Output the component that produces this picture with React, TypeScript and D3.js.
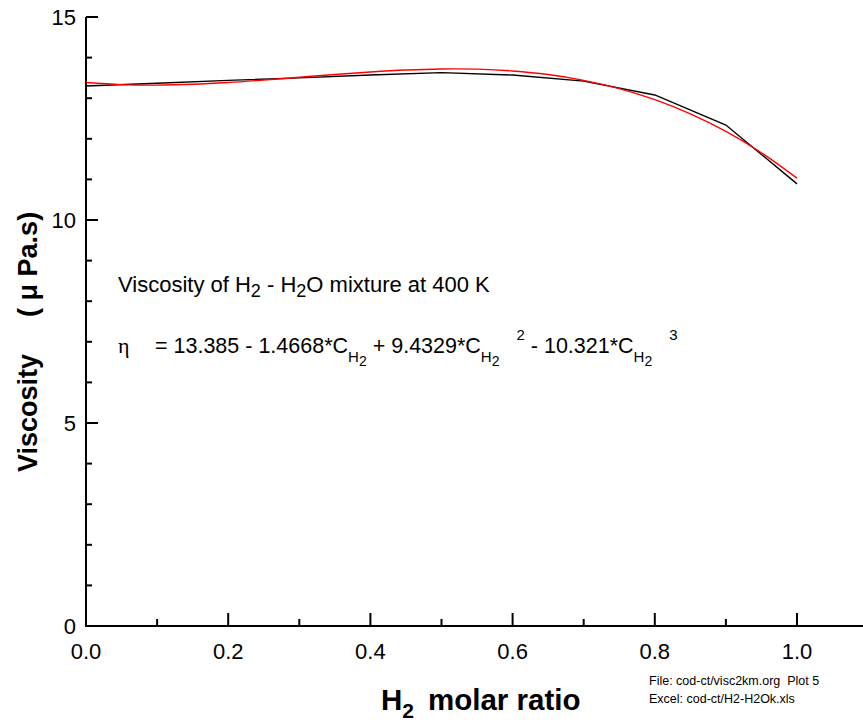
import React from 'react'
import * as d3 from 'd3'

// measured viscosity (black), at H2 molar ratio 0 .. 1 step 0.1
const ratios = [0, 0.1, 0.2, 0.3, 0.4, 0.5, 0.6, 0.7, 0.8, 0.9, 1.0]
const measured = [13.30, 13.37, 13.44, 13.50, 13.57, 13.63, 13.57, 13.42, 13.08, 12.34, 10.89]

// cubic fit (red), read at step 0.05
const fitRatios = [0, 0.05, 0.1, 0.15, 0.2, 0.25, 0.3, 0.35, 0.4, 0.45, 0.5,
    0.55, 0.6, 0.65, 0.7, 0.75, 0.8, 0.85, 0.9, 0.95, 1.0]
const fitted = [13.385, 13.334, 13.322, 13.342, 13.386, 13.447, 13.515, 13.585, 13.647, 13.695, 13.720,
    13.715, 13.671, 13.583, 13.440, 13.237, 12.964, 12.615, 12.182, 11.657, 11.030]

const xTicks = [0, 0.2, 0.4, 0.6, 0.8, 1.0]
const xMinor = [0.1, 0.3, 0.5, 0.7, 0.9]
const yTicks = [0, 5, 10, 15]

const font = 'Liberation Sans, Arial, sans-serif'

export default function App() {
    const x = d3.scaleLinear().domain([0, 1]).range([86, 797])
    const y = d3.scaleLinear().domain([0, 15]).range([626, 17])

    const yMinor = d3.range(0, 16, 1).filter(v => v % 5 !== 0)

    const line = d3.line<[number, number]>()
        .x(d => x(d[0]))
        .y(d => y(d[1]))

    const fitLine = d3.line<[number, number]>()
        .x(d => x(d[0]))
        .y(d => y(d[1]))
        .curve(d3.curveCatmullRom)

    const blackPath = line(ratios.map((r, i) => [r, measured[i]]))
    const redPath = fitLine(fitRatios.map((r, i) => [r, fitted[i]]))

    const eqY = 353
    const subY = 362
    const sub2Y = 366
    const supY = 340

    return (
        <svg width={863} height={728} style={{position: 'absolute', left: 0, top: 0, background: '#fff'}}
             fontFamily={font}>
            {/* axes */}
            <line x1={x(0)} x2={863} y1={y(0)} y2={y(0)} stroke="#000" strokeWidth={2}/>
            <line x1={x(0)} x2={x(0)} y1={y(0) + 1} y2={y(15)} stroke="#000" strokeWidth={2}/>

            {xTicks.map(t => (
                <g key={'xt' + t}>
                    <line x1={x(t)} x2={x(t)} y1={y(0)} y2={y(0) - 13} stroke="#000" strokeWidth={2}/>
                    <text x={x(t)} y={659} fontSize={22} textAnchor="middle">{t.toFixed(1)}</text>
                </g>
            ))}
            {xMinor.map(t => (
                <line key={'xm' + t} x1={x(t)} x2={x(t)} y1={y(0)} y2={y(0) - 7} stroke="#000" strokeWidth={2}/>
            ))}

            {yTicks.map(t => (
                <g key={'yt' + t}>
                    <line x1={x(0)} x2={x(0) + 12} y1={y(t)} y2={y(t)} stroke="#000" strokeWidth={2}/>
                    <text x={76} y={y(t) + 8} fontSize={22} textAnchor="end">{t}</text>
                </g>
            ))}
            {yMinor.map(t => (
                <line key={'ym' + t} x1={x(0)} x2={x(0) + 6} y1={y(t)} y2={y(t)} stroke="#000" strokeWidth={2}/>
            ))}

            {/* curves */}
            <path d={blackPath || ''} fill="none" stroke="#000" strokeWidth={1.4}/>
            <path d={redPath || ''} fill="none" stroke="#ff0000" strokeWidth={1.4}/>

            {/* axis titles */}
            <text fontSize={29.5} fontWeight="bold">
                <tspan x={381} y={710}>H</tspan>
                <tspan y={718} fontSize={21}>2</tspan>
                <tspan x={428} y={710}>molar ratio</tspan>
            </text>
            <text transform="translate(37,472) rotate(-90)" fontSize={27} fontWeight="bold">
                <tspan>Viscosity</tspan>
                <tspan dx={37}>( μ Pa.s)</tspan>
            </text>

            {/* annotation */}
            <text fontSize={22}>
                <tspan x={118} y={292}>Viscosity of H</tspan>
                <tspan y={297} fontSize={18}>2</tspan>
                <tspan y={292}> - H</tspan>
                <tspan y={297} fontSize={18}>2</tspan>
                <tspan y={292}>O mixture at 400 K</tspan>
            </text>

            <text x={118} y={eqY} fontSize={22} fontFamily="Liberation Serif, serif">η</text>
            <text fontSize={21.5}>
                <tspan x={155} y={eqY}>= 13.385 - 1.4668*C</tspan>
                <tspan y={subY} fontSize={15}>H</tspan>
                <tspan y={sub2Y} fontSize={14}>2</tspan>
                <tspan y={eqY}> + 9.4329*C</tspan>
                <tspan y={subY} fontSize={15}>H</tspan>
                <tspan y={sub2Y} fontSize={14}>2</tspan>
                <tspan y={supY} dx={17} fontSize={15}>2</tspan>
                <tspan y={eqY}> - 10.321*C</tspan>
                <tspan y={subY} fontSize={15}>H</tspan>
                <tspan y={sub2Y} fontSize={14}>2</tspan>
                <tspan y={supY} dx={17} fontSize={15}>3</tspan>
            </text>

            {/* file info */}
            <text x={649} y={685} fontSize={12.5} style={{whiteSpace: 'pre'}}>File: cod-ct/visc2km.org  Plot 5</text>
            <text x={649} y={703} fontSize={12.5}>Excel: cod-ct/H2-H2Ok.xls</text>
        </svg>
    )
}
